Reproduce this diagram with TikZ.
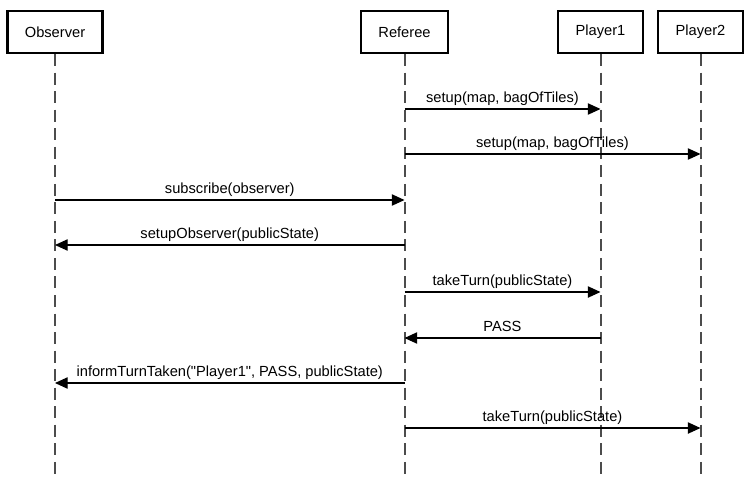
\documentclass[tikz,border=0pt]{standalone}
\usepackage{fontspec}
\setmainfont{Liberation Sans}[Ligatures=TeXOff]
\usetikzlibrary{arrows.meta,positioning}

\begin{document}
\begin{tikzpicture}[x=0.75pt,y=-0.75pt,
  actor/.style={draw,line width=1.6pt,minimum height=31.5pt,inner xsep=13pt,font=\fontsize{11}{13}\selectfont},
  lifeline/.style={draw=black!70,line width=1.5pt,dash pattern=on 9pt off 4.9pt},
  msg/.style={-{Triangle[length=9.5pt,width=8.5pt]},line width=0.85pt},
  lbl/.style={anchor=base,yshift=5.25pt,inner sep=0pt,font=\fontsize{11}{13}\selectfont}]
  \useasboundingbox (0,0) rectangle (753,486);
  \node[actor] (observer) at (55,32) {Observer};
  \node[actor] (referee) at (404.5,32) {Referee};
  \node[actor] (player1) at (600.5,32) {Player1};
  \node[actor] (player2) at (700.5,32) {Player2};
  % lifelines
  \coordinate (bottom) at (0,480);
  \foreach \a in {observer,referee,player1,player2}
    \draw[lifeline] (\a) -- (\a |- bottom);
  % message rows
  \foreach \n/\y in {1/109,2/154,3/200,4/245,5/292,6/338,7/383,8/428}
    \coordinate (row\n) at (0,\y);
  \path[msg]
    (referee |- row1) edge node[lbl] {setup(map, bagOfTiles)} (player1 |- row1)
    (referee |- row2) edge node[lbl] {setup(map, bagOfTiles)} (player2 |- row2)
    (observer |- row3) edge node[lbl] {subscribe(observer)} (referee |- row3)
    (referee |- row4) edge node[lbl] {setupObserver(publicState)} (observer |- row4)
    (referee |- row5) edge node[lbl] {takeTurn(publicState)} (player1 |- row5)
    (player1 |- row6) edge node[lbl] {PASS} (referee |- row6)
    (referee |- row7) edge node[lbl] {informTurnTaken("Player1", PASS, publicState)} (observer |- row7)
    (referee |- row8) edge node[lbl] {takeTurn(publicState)} (player2 |- row8);
\end{tikzpicture}
\end{document}
